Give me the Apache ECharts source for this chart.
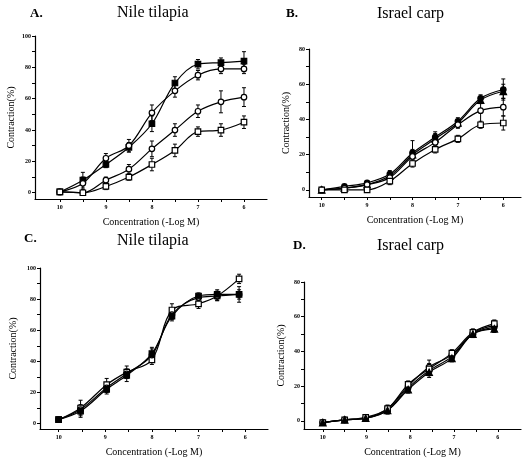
<!DOCTYPE html>
<html>
<head>
<meta charset="utf-8">
<script src="https://cdn.jsdelivr.net/npm/echarts@6/dist/echarts.min.js"></script>
<style>
  html, body { margin: 0; padding: 0; background: #fff; }
  #main { width: 522px; height: 458px; }
</style>
</head>
<body>
<div id="main"></div>
<script>
// x positions (-log M)
var concA = [10, 9.5, 9, 8.5, 8, 7.5, 7, 6.5, 6];
var concB = [10, 9.5, 9, 8.5, 8, 7.5, 7, 6.5, 6];
var concC = [10, 9.53, 8.97, 8.54, 8.0, 7.57, 7.0, 6.6, 6.13];
var concD = [10, 9.5, 9.02, 8.52, 8.05, 7.57, 7.05, 6.57, 6.08];

// A. Nile tilapia
var aSquareFilled = [0.5, 8, 18, 29, 44, 70, 82, 83, 84];
var aSquareFilledErr = [0, 5, 2, 3, 5, 4, 3, 3, 6];
var aCircle1 = [0.5, 6, 22, 30, 51, 65, 75, 79, 79];
var aCircle1Err = [0, 4, 3, 4, 5, 4, 3, 3, 3];
var aCircle2 = [0.5, 0, 8, 15, 28, 40, 52, 58, 61];
var aCircle2Err = [0, 1, 2, 3, 5, 4, 4, 7, 6];
var aSquare = [0.5, 0, 4, 10, 18, 27, 39, 40, 45];
var aSquareErr = [0, 1, 2, 2, 4, 4, 3, 4, 4];

// B. Israel carp
var bCircleFilled = [0, 2, 4, 9, 21, 30, 39, 52, 57];
var bCircleFilledErr = [0, 1, 1, 2, 7, 3, 2, 2, 6];
var bTriangle = [0, 1, 3, 8, 20, 29, 38, 51, 56];
var bTriangleErr = [0, 1, 1, 2, 3, 3, 2, 2, 4];
var bCircle = [0, 1, 3, 7, 19, 27, 37, 45, 47];
var bCircleErr = [0, 1, 1, 2, 3, 3, 2, 7, 5];
var bSquare = [0, 0, 0, 5, 15, 23, 29, 37, 38];
var bSquareErr = [0, 1, 1, 2, 2, 2, 2, 2, 4];

// C. Nile tilapia
var cSquare = [2.5, 10, 25, 33, 41, 73, 77, 82, 93];
var cSquareErr = [0, 5, 4, 4, 3, 4, 3, 3, 3];
var cCircle = [2.5, 9, 23, 32, 44, 70, 81, 82, 83];
var cCircleErr = [0, 3, 3, 3, 4, 3, 2, 3, 3];
var cFilled = [2.5, 8, 22, 31, 45, 69, 82, 83, 83];
var cFilledErr = [0, 4, 3, 4, 4, 3, 2, 3, 5];

// D. Israel carp
var dCircle = [-1, 0.6, 1.5, 7, 20, 31, 38, 50.5, 55];
var dCircleErr = [0, 0.5, 1.5, 2, 2, 4, 2, 2, 3];
var dFilled = [-1, 0.6, 1.5, 6, 19, 29, 37, 50, 54];
var dFilledErr = [0, 0.5, 1, 2, 2, 3, 2, 2, 3];
var dSquare = [-1, 0.6, 2, 7, 21, 30, 39, 51, 56];
var dSquareErr = [0, 0.5, 1, 2, 2, 3, 2, 2, 2];
var dTriangle = [-1, 0.6, 1.5, 6, 18, 28, 36, 50, 53];
var dTriangleErr = [0, 0.5, 1, 2, 2, 3, 2, 2, 2];

var serif = 'Liberation Serif';
var xTicks = [10, 9.5, 9, 8.5, 8, 7.5, 7, 6.5, 6];
var xLabels = [10, 9, 8, 7, 6];

function makeX(idx, min, max) {
  return {
    type: 'value', gridIndex: idx, min: min, max: max, inverse: true,
    name: 'Concentration (-Log M)', nameLocation: 'middle', nameGap: 18,
    nameTextStyle: { fontFamily: serif, fontSize: 10, color: '#000' },
    axisLine: { onZero: false, lineStyle: { color: '#000', width: 1.2 } },
    axisTick: { show: true, length: 3, customValues: xTicks, lineStyle: { color: '#000' } },
    axisLabel: { customValues: xLabels, fontFamily: serif, fontSize: 6, fontWeight: 'bold', color: '#000', margin: 5 },
    splitLine: { show: false }
  };
}

function makeY(idx, min, max, gap) {
  var ticks = [], labels = [];
  for (var v = 0; v <= max; v += 10) ticks.push(v);
  for (var w = 0; w <= max; w += 20) labels.push(w);
  return {
    type: 'value', gridIndex: idx, min: min, max: max,
    name: 'Contraction(%)', nameLocation: 'middle', nameGap: gap,
    nameTextStyle: { fontFamily: serif, fontSize: 10, color: '#000' },
    axisLine: { show: true, lineStyle: { color: '#000', width: 1.2 } },
    axisTick: { show: true, length: 3, customValues: ticks, lineStyle: { color: '#000' } },
    axisLabel: { customValues: labels, fontFamily: serif, fontSize: 6, fontWeight: 'bold', color: '#000', margin: 4 },
    splitLine: { show: false }
  };
}

function pairs(xs, ys) {
  return xs.map(function (x, i) { return [x, ys[i]]; });
}

function lineSeries(idx, xs, ys, symbol, filled) {
  return {
    type: 'line', xAxisIndex: idx, yAxisIndex: idx,
    data: pairs(xs, ys), smooth: 0.35,
    symbol: symbol, symbolSize: symbol === 'triangle' ? 6.5 : 5.5,
    lineStyle: { color: '#000', width: 1.2 },
    itemStyle: { color: filled ? '#000' : '#fff', borderColor: '#000', borderWidth: 1.2 },
    z: 3
  };
}

function errSeries(idx, xs, ys, errs) {
  var data = [];
  xs.forEach(function (x, i) {
    if (errs[i] > 0) data.push([x, ys[i] - errs[i], ys[i] + errs[i]]);
  });
  return {
    type: 'custom', xAxisIndex: idx, yAxisIndex: idx, data: data, z: 2,
    renderItem: function (params, api) {
      var lo = api.coord([api.value(0), api.value(1)]);
      var hi = api.coord([api.value(0), api.value(2)]);
      var c = 2;
      var st = { stroke: '#000', lineWidth: 1 };
      return {
        type: 'group',
        children: [
          { type: 'line', shape: { x1: lo[0], y1: lo[1], x2: hi[0], y2: hi[1] }, style: st },
          { type: 'line', shape: { x1: hi[0] - c, y1: hi[1], x2: hi[0] + c, y2: hi[1] }, style: st },
          { type: 'line', shape: { x1: lo[0] - c, y1: lo[1], x2: lo[0] + c, y2: lo[1] }, style: st }
        ]
      };
    }
  };
}

var panels = [
  { xs: concA, sets: [[aSquareFilled, aSquareFilledErr, 'rect', true], [aCircle1, aCircle1Err, 'circle', false],
    [aCircle2, aCircle2Err, 'circle', false], [aSquare, aSquareErr, 'rect', false]] },
  { xs: concB, sets: [[bCircleFilled, bCircleFilledErr, 'circle', true], [bTriangle, bTriangleErr, 'triangle', true],
    [bCircle, bCircleErr, 'circle', false], [bSquare, bSquareErr, 'rect', false]] },
  { xs: concC, sets: [[cSquare, cSquareErr, 'rect', false], [cCircle, cCircleErr, 'circle', false],
    [cFilled, cFilledErr, 'rect', true]] },
  { xs: concD, sets: [[dCircle, dCircleErr, 'circle', false], [dFilled, dFilledErr, 'circle', true],
    [dSquare, dSquareErr, 'rect', false], [dTriangle, dTriangleErr, 'triangle', true]] }
];

var series = [];
panels.forEach(function (p, idx) {
  p.sets.forEach(function (s) {
    series.push(errSeries(idx, p.xs, s[0], s[1]));
    series.push(lineSeries(idx, p.xs, s[0], s[2], s[3]));
  });
});

function txt(x, y, text, size, bold) {
  return {
    type: 'text', left: x, top: y,
    style: { text: text, fontFamily: serif, fontSize: size, fontWeight: bold ? 'bold' : 'normal', fill: '#000' }
  };
}

var chart = echarts.init(document.getElementById('main'));
chart.setOption({
  animation: false,
  backgroundColor: '#fff',
  grid: [
    { left: 35, top: 36, width: 232, height: 163 },
    { left: 309, top: 49, width: 212, height: 148 },
    { left: 40, top: 268, width: 228, height: 162 },
    { left: 304, top: 282, width: 217, height: 148 }
  ],
  xAxis: [
    makeX(0, 5.5, 10.54),
    makeX(1, 5.61, 10.28),
    makeX(2, 5.51, 10.4),
    makeX(3, 5.47, 10.43)
  ],
  yAxis: [
    makeY(0, -4, 100, 19),
    makeY(1, -4, 80, 18),
    makeY(2, -3.5, 100, 22),
    makeY(3, -4.7, 80, 18)
  ],
  graphic: [
    txt(30, 7, 'A.', 13, true),
    txt(117, 5, 'Nile tilapia', 16, false),
    txt(286, 7, 'B.', 13, true),
    txt(377, 6, 'Israel carp', 16, false),
    txt(24, 232, 'C.', 13, true),
    txt(117, 233, 'Nile tilapia', 16, false),
    txt(293, 239, 'D.', 13, true),
    txt(377, 238, 'Israel carp', 16, false)
  ],
  series: series
});
</script>
</body>
</html>
